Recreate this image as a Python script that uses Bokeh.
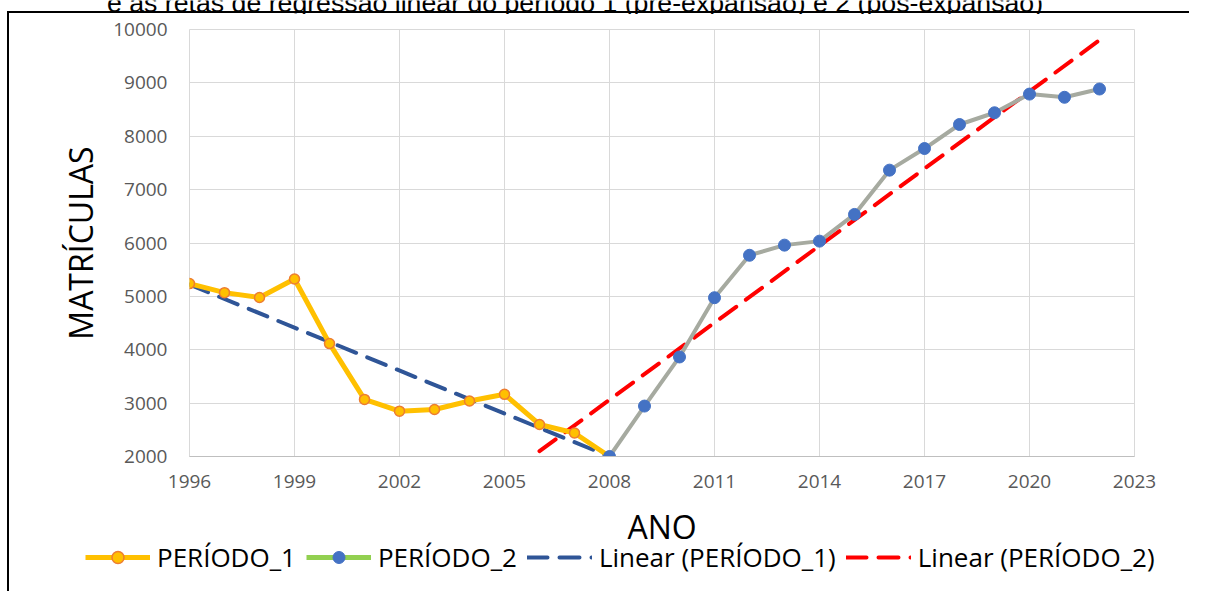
from bokeh.plotting import figure
from bokeh.models import (FixedTicker, Label, Legend, LegendItem, ColumnDataSource)
from bokeh.layouts import column
from bokeh.embed import file_html
from bokeh.resources import INLINE

# ---------------- data ----------------
years_p1 = [1996, 1997, 1998, 1999, 2000, 2001, 2002, 2003, 2004, 2005, 2006, 2007, 2008]
matr_p1 = [5240, 5070, 4980, 5325, 4115, 3070, 2850, 2880, 3040, 3165, 2600, 2440, 2000]

years_p2 = [2008, 2009, 2010, 2011, 2012, 2013, 2014, 2015, 2016, 2017, 2018, 2019, 2020, 2021, 2022]
matr_p2 = [2000, 2945, 3865, 4975, 5770, 5960, 6035, 6535, 7365, 7770, 8220, 8440, 8790, 8730, 8885]

trend_p1_x = [1996, 2008]
trend_p1_y = [5220, 2000]
trend_p2_x = [2006, 2022]
trend_p2_y = [2100, 9800]

x_ticks = [1996, 1999, 2002, 2005, 2008, 2011, 2014, 2017, 2020, 2023]
y_ticks = [2000, 3000, 4000, 5000, 6000, 7000, 8000, 9000, 10000]

series_names = ["PERÍODO_1", "PERÍODO_2", "Linear (PERÍODO_1)", "Linear (PERÍODO_2)"]
caption = "e as retas de regressão linear do período 1 (pré-expansão) e 2 (pós-expansão)"
x_title = "ANO"
y_title = "MATRÍCULAS"

# colours / styles
C_P1_LINE, C_P1_EDGE = "#FFC000", "#ED7D31"
C_P2_LINE, C_P2_LEG, C_P2_MARK = "#A6AAA0", "#92D050", "#4472C4"
C_T1, C_T2 = "#2F5597", "#FF0000"
DASH = "20 12"

W = 1189


def blank_fig(h):
    f = figure(width=W, height=h, x_range=(0, W), y_range=(0, h), min_border=0,
               x_axis_type=None, y_axis_type=None, toolbar_location=None,
               output_backend="svg", frame_align=False)
    f.outline_line_color = None
    f.background_fill_color = None
    f.border_fill_color = None
    f.grid.visible = False
    return f


# ---------------- caption strip (cut at the top, as in the reference) ----------------
cap = blank_fig(14)
cap.add_layout(Label(x=574.5, y=12, text=caption, text_align="center",
                     text_baseline="alphabetic", text_font="Liberation Sans",
                     text_font_size="26.7px", text_color="black"))

# ---------------- main chart ----------------
p = figure(width=W, height=486, output_backend="svg", toolbar_location=None,
           x_range=(1996, 2023), y_range=(2000, 10000),
           min_border_left=189, min_border_right=55,
           min_border_top=15, min_border_bottom=44, frame_align=False)
p.background_fill_color = "white"
p.border_fill_color = None
p.outline_line_color = "#D9D9D9"
p.outline_line_width = 1

p.xaxis.ticker = FixedTicker(ticks=x_ticks)
p.yaxis.ticker = FixedTicker(ticks=y_ticks)
for ax in (p.xaxis[0], p.yaxis[0]):
    ax.major_tick_out = 0
    ax.major_tick_in = 0
    ax.minor_tick_out = 0
    ax.minor_tick_in = 0
    ax.major_label_text_font = "Open Sans"
    ax.major_label_text_font_size = "19px"
    ax.major_label_text_color = "#595959"
p.yaxis.axis_line_color = None
p.xaxis.axis_line_color = "#BFBFBF"
p.yaxis.major_label_standoff = 22
p.xaxis.major_label_standoff = 18
p.yaxis.axis_label = y_title
p.yaxis.axis_label_text_font = "Open Sans"
p.yaxis.axis_label_text_font_size = "32px"
p.yaxis.axis_label_text_font_style = "normal"
p.yaxis.axis_label_text_color = "black"
p.yaxis.axis_label_standoff = 8

p.xgrid.ticker = FixedTicker(ticks=x_ticks)
p.ygrid.ticker = FixedTicker(ticks=y_ticks)
p.grid.grid_line_color = "#D9D9D9"
p.grid.grid_line_width = 1

p.line(trend_p2_x, trend_p2_y, line_color=C_T2, line_width=4, line_dash=DASH, line_cap="round")
p.line(trend_p1_x, trend_p1_y, line_color=C_T1, line_width=4, line_dash=DASH, line_cap="round")

src1 = ColumnDataSource(dict(x=years_p1, y=matr_p1))
src2 = ColumnDataSource(dict(x=years_p2, y=matr_p2))
p.line("x", "y", source=src2, line_color=C_P2_LINE, line_width=4, line_join="round")
p.line("x", "y", source=src1, line_color=C_P1_LINE, line_width=5, line_join="round")
p.scatter("x", "y", source=src1, size=10, fill_color=C_P1_LINE, line_color=C_P1_EDGE, line_width=1.5)
p.scatter("x", "y", source=src2, size=12, fill_color=C_P2_MARK, line_color=C_P2_MARK, line_width=1)

# ---------------- x title + legend strip ----------------
leg = blank_fig(91)
leg.add_layout(Label(x=661.5, y=65.5, text=x_title, text_align="center",
                     text_baseline="middle", text_font="Open Sans",
                     text_font_size="32px", text_color="black"))
# legend-only glyphs, kept off-screen (outside the strip's ranges)
off_x, off_y = [-60, -50], [-60, -50]
l1 = leg.line(x=off_x, y=off_y, line_color=C_P1_LINE, line_width=5)
m1 = leg.scatter(x=off_x, y=off_y, size=10, fill_color=C_P1_LINE, line_color=C_P1_EDGE, line_width=1.5)
l2 = leg.line(x=off_x, y=off_y, line_color=C_P2_LEG, line_width=5)
m2 = leg.scatter(x=off_x, y=off_y, size=12, fill_color=C_P2_MARK, line_color=C_P2_MARK, line_width=1)
t1 = leg.line(x=off_x, y=off_y, line_color=C_T1, line_width=4, line_dash=DASH, line_cap="round")
t2 = leg.line(x=off_x, y=off_y, line_color=C_T2, line_width=4, line_dash=DASH, line_cap="round")
legend = Legend(items=[
    LegendItem(label=series_names[0], renderers=[l1, m1]),
    LegendItem(label=series_names[1], renderers=[l2, m2]),
    LegendItem(label=series_names[2], renderers=[t1]),
    LegendItem(label=series_names[3], renderers=[t2]),
], orientation="horizontal", location=(85, 16))
legend.label_text_font = "Open Sans"
legend.label_text_font_size = "26px"
legend.label_text_color = "black"
legend.glyph_width = 65
legend.glyph_height = 30
legend.label_standoff = 7
legend.spacing = 10
legend.padding = 0
legend.margin = 0
legend.border_line_alpha = 0
legend.background_fill_alpha = 0
leg.add_layout(legend, "center")

layout = column(cap, p, leg, spacing=0, styles={
    "background-image": "linear-gradient(#000,#000), linear-gradient(#000,#000)",
    "background-size": "2px 100%, 100% 2px",
    "background-position": "7px 11px, 7px 11px",
    "background-repeat": "no-repeat",
})

open("out.html", "w").write(file_html(layout, INLINE))
